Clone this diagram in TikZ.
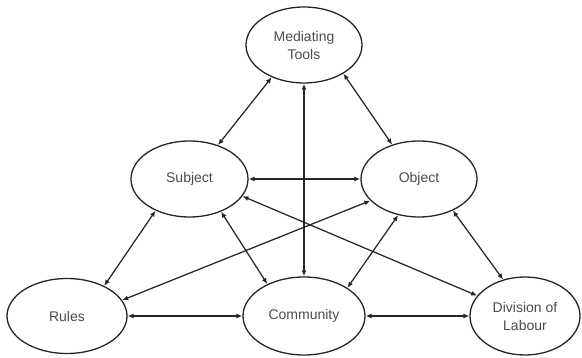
\documentclass[tikz,border=0pt]{standalone}
\usepackage{fontspec}
\setmainfont{Liberation Sans}
\usetikzlibrary{shapes.geometric,arrows.meta}
\begin{document}
\begin{tikzpicture}[x=1pt,y=-1pt,
  actor/.style={ellipse,draw=black!85,line width=1.3pt,fill=white,inner sep=0pt,
    text=black!70,font=\fontsize{14}{18}\selectfont,align=center},
  link/.style={draw=black!85,line width=1.25pt,{Latex[length=6pt,width=5pt]}-{Latex[length=6pt,width=5pt]}}]
\useasboundingbox (0,0) rectangle (582,358);
% activity-system components
\node[actor,minimum width=116pt,minimum height=76pt] (tools) at (304,45) {Mediating\\Tools};
\node[actor,minimum width=117pt,minimum height=76pt] (subj) at (189.5,179) {Subject};
\node[actor,minimum width=116pt,minimum height=76pt] (obj) at (419,179) {Object};
\node[actor,minimum width=120pt,minimum height=75pt] (rules) at (67,316) {Rules};
\node[actor,minimum width=122pt,minimum height=78pt] (comm) at (304,316) {Community};
\node[actor,minimum width=110pt,minimum height=78pt] (dol) at (525,316) {Division of\\Labour};
% two-way relations
\draw[link] (tools.225) -- (subj.50);
\draw[link] (tools.324) -- (obj.128);
\draw[link] (tools.south) -- (comm.north);
\draw[link] (subj.east) -- (obj.west);
\draw[link] (subj.223) -- (rules.39);
\draw[link] (subj.314) -- (comm.139);
\draw[link] (subj.342) -- (dol.157);
\draw[link] (obj.204) -- (rules.16);
\draw[link] (obj.240) -- (comm.33);
\draw[link] (obj.317) -- (dol.121);
\draw[link] (rules.east) -- (comm.west);
\draw[link] (comm.east) -- (dol.west);
\end{tikzpicture}
\end{document}
